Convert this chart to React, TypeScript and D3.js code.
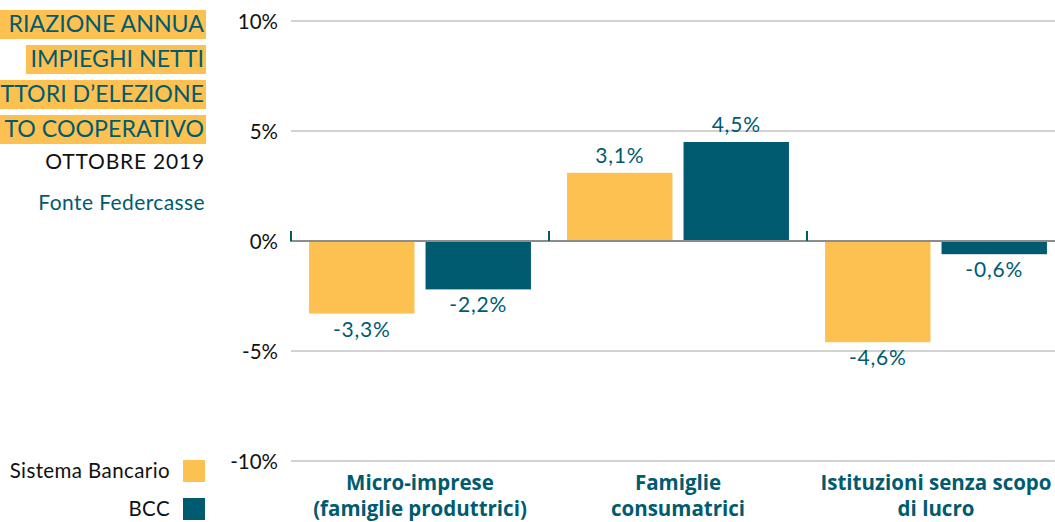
import React from "react";
import * as d3 from "d3";

const categories = ["Micro-imprese|(famiglie produttrici)", "Famiglie|consumatrici", "Istituzioni senza scopo|di lucro"];
const seriesNames = ["Sistema Bancario", "BCC"];
const sistemaBancario = [-3.3, 3.1, -4.6];
const bcc = [-2.2, 4.5, -0.6];
const yTicks = [-10, -5, 0, 5, 10];
const titleLines = ["RIAZIONE ANNUA", "IMPIEGHI NETTI", "TTORI D\u2019ELEZIONE", "TO COOPERATIVO"];

const YELLOW = "#FDC151";
const TEAL = "#005B70";
const FONT = "Lato, 'Noto Sans', sans-serif";
const BOLDFONT = "'Open Sans', Lato, sans-serif";

export default function App() {
  const W = 1055, H = 522;
  const x0 = d3.scaleBand<string>().domain(categories).range([291, 1065]).paddingInner(0).paddingOuter(0);
  const x1 = d3.scaleBand<string>().domain(seriesNames).range([0, x0.bandwidth()]).paddingInner(0.095).paddingOuter(0.155);
  const y = d3.scaleLinear().domain([-10, 10]).range([461, 21]);
  const values = [sistemaBancario, bcc];
  const colors = [YELLOW, TEAL];
  const fmt = (v: number) => v.toFixed(1).replace(".", ",") + "%";

  const titleBoxes = [
    { x0: 0, y: 10 },
    { x0: 26, y: 45 },
    { x0: 0, y: 80 },
    { x0: 0, y: 115 },
  ];

  return (
    <svg width={W} height={H} style={{ position: "absolute", left: 0, top: 0, display: "block", background: "#fff" }} fontFamily={FONT}>
      {/* title */}
      {titleLines.map((t, i) => (
        <g key={t}>
          <rect x={titleBoxes[i].x0} y={titleBoxes[i].y} width={206 - titleBoxes[i].x0} height={29} fill={YELLOW} />
          <text x={204} y={titleBoxes[i].y + 22} textAnchor="end" fontSize={23.2} fill={TEAL}>{t}</text>
        </g>
      ))}
      <text x={205} y={169} textAnchor="end" fontSize={21} fill="#111" letterSpacing={0.8}>OTTOBRE 2019</text>
      <text x={205} y={210} textAnchor="end" fontSize={21} fill={TEAL} letterSpacing={0.4}>Fonte Federcasse</text>

      {/* gridlines */}
      {yTicks.filter((t) => t !== 0).map((t) => (
        <line key={t} x1={291} x2={W} y1={y(t)} y2={y(t)} stroke="#A6A6A6" strokeWidth={1.2} />
      ))}
      {yTicks.map((t) => (
        <text key={"l" + t} x={278} y={y(t) + 8} textAnchor="end" fontSize={20.5} fill="#111">{t + "%"}</text>
      ))}

      {/* bars */}
      {categories.map((c, ci) => (
        <g key={c}>
          {seriesNames.map((s, si) => {
            const v = values[si][ci];
            const bx = (x0(c) as number) + (x1(s) as number);
            const top = Math.min(y(v), y(0));
            const h = Math.abs(y(v) - y(0));
            const cx = bx + x1.bandwidth() / 2;
            return (
              <g key={s}>
                <rect x={bx} y={top} width={x1.bandwidth()} height={h} fill={colors[si]} />
                <text x={cx} y={v >= 0 ? y(v) - 10 : y(v) + 23} textAnchor="middle" fontSize={21} fill={TEAL} letterSpacing={0.8}>{fmt(v)}</text>
              </g>
            );
          })}
        </g>
      ))}

      {/* zero axis */}
      <line x1={290} x2={W} y1={y(0)} y2={y(0)} stroke="#8C8C8C" strokeWidth={2} />
      {categories.map((c) => (
        <line key={"t" + c} x1={x0(c) as number} x2={x0(c) as number} y1={y(0) - 10} y2={y(0)} stroke={TEAL} strokeWidth={2} />
      ))}

      {/* category labels */}
      {categories.map((c) => {
        const [l1, l2] = c.split("|");
        const cx = (x0(c) as number) + x0.bandwidth() / 2;
        return (
          <text key={"c" + c} x={cx} textAnchor="middle" fontSize={20.5} fontWeight="bold" fill={TEAL} fontFamily={BOLDFONT}>
            <tspan x={cx} y={490}>{l1}</tspan>
            <tspan x={cx} y={516}>{l2}</tspan>
          </text>
        );
      })}

      {/* legend */}
      {seriesNames.map((s, i) => (
        <g key={"lg" + s}>
          <rect x={183} y={460 + i * 38} width={22} height={22} fill={colors[i]} />
          <text x={170} y={478 + i * 38} textAnchor="end" fontSize={20.5} fill="#111" letterSpacing={0.4}>{s}</text>
        </g>
      ))}
    </svg>
  );
}
